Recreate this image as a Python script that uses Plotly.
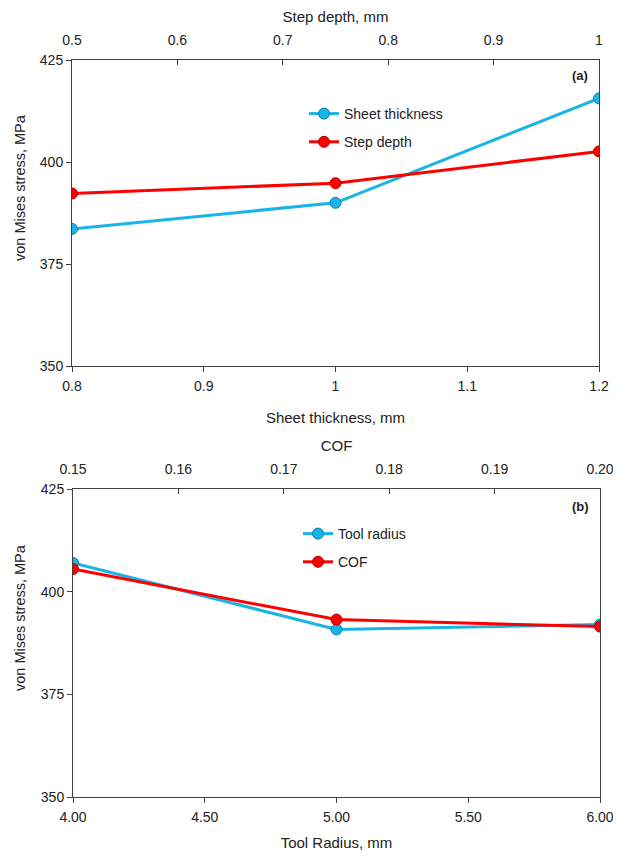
import plotly.graph_objects as go

# Panel (a)
sheet_thickness = [0.8, 1.0, 1.2]
stress_sheet = [383.6, 390.0, 415.6]
step_depth = [0.5, 0.75, 1.0]
stress_step = [392.3, 394.8, 402.6]

# Panel (b)
tool_radius = [4.0, 5.0, 6.0]
stress_tool = [407.0, 390.8, 392.0]
cof = [0.15, 0.175, 0.20]
stress_cof = [405.5, 393.2, 391.5]

BLUE = "#19B4E6"
RED = "#FF0000"
FONT = "Liberation Sans, Arial, sans-serif"
AX = "#404040"

# page body has an 8px margin; figure sized to fit the window
OFF = 8
W, H = 621 - OFF, 857 - OFF

def px(x):
    return (x - OFF) / W

def py(y):
    return 1 - (y - OFF) / H

fig = go.Figure()

def add(x, y, name, color, xa, ya, legend, group):
    fig.add_trace(go.Scatter(
        x=x, y=y, name=name, mode="lines+markers",
        line=dict(color=color, width=3),
        marker=dict(size=11, color=color,
                    line=dict(color="#0A7FA8" if color == BLUE else "#B00000", width=1)),
        xaxis=xa, yaxis=ya, legend=legend, legendgroup=group))

add(sheet_thickness, stress_sheet, "Sheet thickness", BLUE, "x", "y", "legend", "a1")
add(step_depth, stress_step, "Step depth", RED, "x2", "y", "legend", "a2")
add(tool_radius, stress_tool, "Tool radius", BLUE, "x3", "y2", "legend2", "b1")
add(cof, stress_cof, "COF", RED, "x4", "y2", "legend2", "b2")

tickfont = dict(family=FONT, size=14, color="#222")
titlefont = dict(family=FONT, size=15, color="#222")
ytitlefont = dict(family=FONT, size=14.5, color="#222")

common_x = dict(showline=True, linecolor=AX, linewidth=1, showgrid=False,
                zeroline=False, ticklen=5, tickcolor=AX, tickfont=tickfont,
                automargin=False)
common_y = dict(range=[350, 425], dtick=25, ticks="outside", ticklen=5, tickcolor=AX,
                showline=True, linecolor=AX, linewidth=1, mirror=True, showgrid=False,
                zeroline=False, tickfont=tickfont, automargin=False)

xdom_a = [px(72), px(599)]
ydom_a = [py(366), py(60)]
xdom_b = [px(73), px(600)]
ydom_b = [py(797), py(489)]

def label(text, x, y, font, angle=0):
    return dict(text=text, x=px(x), y=py(y), xref="paper", yref="paper",
                xanchor="center", yanchor="middle", textangle=angle,
                showarrow=False, font=font)

fig.update_layout(
    width=W, height=H,
    margin=dict(l=0, r=0, t=0, b=0),
    paper_bgcolor="white", plot_bgcolor="white",
    showlegend=True,
    xaxis=dict(domain=xdom_a, anchor="y", range=[0.8, 1.2], dtick=0.1, tick0=0.8,
               ticks="outside", ticklabelstandoff=2,
               title=dict(text="Sheet thickness, mm", font=titlefont, standoff=19),
               **common_x),
    xaxis2=dict(overlaying="x", side="top", anchor="y", range=[0.5, 1.0], dtick=0.1, tick0=0.5,
                tickformat="~g", ticks="inside", ticklabelstandoff=8,
                title=dict(text="Step depth, mm", font=titlefont, standoff=6), **common_x),
    yaxis=dict(domain=ydom_a, anchor="x", **common_y),
    xaxis3=dict(domain=xdom_b, anchor="y2", range=[4.0, 6.0], dtick=0.5, tick0=4.0,
                tickformat=".2f", ticks="outside", ticklabelstandoff=2,
                title=dict(text="Tool Radius, mm", font=titlefont, standoff=13), **common_x),
    xaxis4=dict(overlaying="x3", side="top", anchor="y2", range=[0.15, 0.20], dtick=0.01,
                tick0=0.15, tickformat=".2f", ticks="inside", ticklabelstandoff=8,
                title=dict(text="COF", font=titlefont, standoff=6), **common_x),
    yaxis2=dict(domain=ydom_b, anchor="x3", **common_y),
    legend=dict(x=296 / W, y=1 - 90 / H, xanchor="left", yanchor="top",
                bgcolor="rgba(0,0,0,0)",
                font=dict(family=FONT, size=14, color="#222"), traceorder="grouped",
                tracegroupgap=7),
    legend2=dict(x=290 / W, y=1 - 510 / H, xanchor="left", yanchor="top",
                 bgcolor="rgba(0,0,0,0)",
                 font=dict(family=FONT, size=14, color="#222"), traceorder="grouped",
                 tracegroupgap=7),
    annotations=[
        label("<b>(a)</b>", 580, 75, dict(family=FONT, size=13, color="#222")),
        label("<b>(b)</b>", 580, 507, dict(family=FONT, size=13, color="#222")),
        label("von Mises stress, MPa", 20, 188, ytitlefont, -90),
        label("von Mises stress, MPa", 20, 618, ytitlefont, -90),
    ],
)

fig.write_html("out.html")
